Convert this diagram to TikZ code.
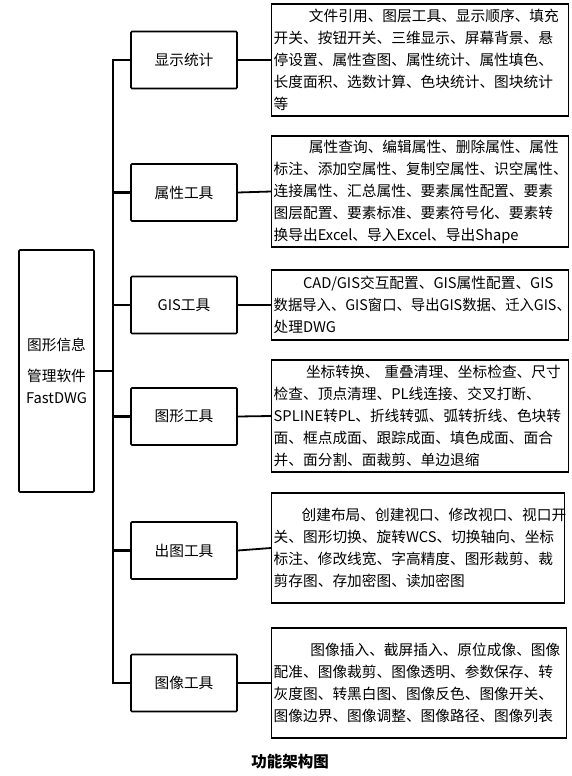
\documentclass[tikz,border=0pt]{standalone}
\usepackage{fontspec}
\setmainfont{Noto Sans CJK SC}
\usetikzlibrary{positioning,calc}

\begin{document}
\begin{tikzpicture}[x=1pt,y=-1pt,
  mainbox/.style={draw,line width=1.6pt,rounded corners=1pt,minimum width=75pt,
    minimum height=242pt,align=center,font=\fontsize{14.7}{22}\selectfont},
  catbox/.style={draw,line width=1.6pt,rounded corners=1pt,minimum width=106pt,
    minimum height=57pt,font=\fontsize{14.7}{18}\selectfont},
  detbox/.style={draw,line width=1.4pt,anchor=west,inner xsep=2pt,text width=293pt,
    align=left,font=\fontsize{14.7}{22}\selectfont},
  link/.style={line width=1.8pt},
  bus/.style={line width=2.4pt}]
  \useasboundingbox (0,0) rectangle (572,776);

  \node[mainbox] (fastdwg) at (56.5,371) {图形信息\\[9pt]管理软件\\FastDWG};

  \node[catbox] (xianshi) at (184,60)    {显示统计};
  \node[catbox] (shuxing) at (184,192.5) {属性工具};
  \node[catbox] (gis)     at (184,305)   {GIS工具};
  \node[catbox] (tuxing)  at (184,416.5) {图形工具};
  \node[catbox] (chutu)   at (184,550.5) {出图工具};
  \node[catbox] (tuxiang) at (184,683)   {图像工具};

  \node[detbox,minimum height=112pt] (xianshiD) at (271,60)
    {\hspace*{2.4em}文件引用、图层工具、显示顺序、填充\\开关、按钮开关、三维显示、屏幕背景、悬\\停设置、属性查图、属性统计、属性填色、\\长度面积、选数计算、色块统计、图块统计\\等};
  \node[detbox,minimum height=111pt] (shuxingD) at (271,191.5)
    {\hspace*{2.4em}属性查询、编辑属性、删除属性、属性\\标注、添加空属性、复制空属性、识空属性、\\连接属性、汇总属性、要素属性配置、要素\\图层配置、要素标准、要素符号化、要素转\\换导出Excel、导入Excel、导出Shape};
  \node[detbox,minimum height=70pt] (gisD) at (271,305)
    {\hspace*{2em}CAD/GIS交互配置、GIS属性配置、GIS\\\scalebox{0.975}[1]{数据导入、GIS窗口、导出GIS数据、迁入GIS、}\\处理DWG};
  \node[detbox,minimum height=112pt] (tuxingD) at (271,416)
    {\hspace*{2.2em}坐标转换、\ 重叠清理、坐标检查、尺寸\\检查、顶点清理、PL线连接、交叉打断、\\SPLINE转PL、折线转弧、弧转折线、色块转\\面、框点成面、跟踪成面、填色成面、面合\\并、面分割、面裁剪、单边退缩};
  \node[detbox,minimum height=110pt,text width=289pt] (chutuD) at (271,548)
    {\hspace*{1.9em}创建布局、创建视口、修改视口、视口开\\关、图形切换、旋转WCS、切换轴向、坐标\\标注、修改线宽、字高精度、图形裁剪、裁\\剪存图、存加密图、读加密图};
  \node[detbox,minimum height=110pt,text width=291pt] (tuxiangD) at (271,683)
    {\hspace*{2.5em}图像插入、截屏插入、原位成像、图像\\配准、图像裁剪、图像透明、参数保存、转\\灰度图、转黑白图、图像反色、图像开关、\\图像边界、图像调整、图像路径、图像列表};

  % bus
  \draw[bus] (fastdwg.east) -- ++(18,0) coordinate (hub);
  \draw[bus] (xianshi.west) -- (xianshi.west -| hub) |- (tuxiang.west);
  \draw[bus] (shuxing.west) -- (shuxing.west -| hub);
  \draw[bus] (gis.west) -- (gis.west -| hub);
  \draw[bus] (tuxing.west) -- (tuxing.west -| hub);
  \draw[bus] (chutu.west) -- (chutu.west -| hub);

  \draw[link] (xianshi.east) -- (xianshiD.west);
  \draw[link] (shuxing.east) -- (shuxingD.west);
  \draw[link] (gis.east) -- (gisD.west);
  \draw[link] (tuxing.east) -- (tuxingD.west);
  \draw[link] (chutu.east) -- (chutuD.west);
  \draw[link] (tuxiang.east) -- (tuxiangD.west);

  \node[font=\fontsize{15.5}{18}\selectfont\bfseries] (caption) at (290,762) {功能架构图};
\end{tikzpicture}
\end{document}
